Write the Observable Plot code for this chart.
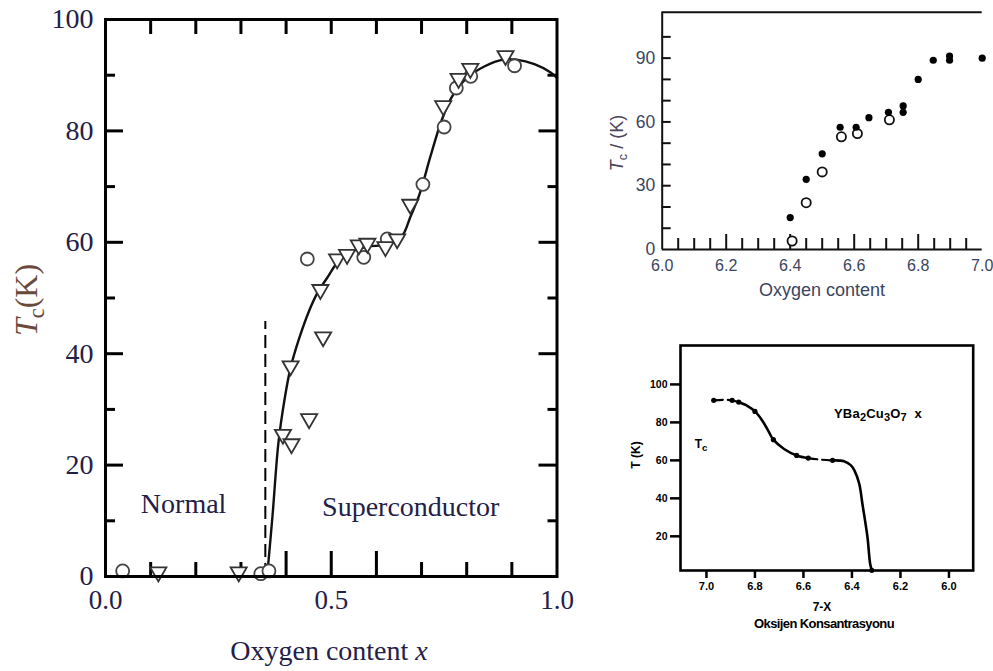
<!DOCTYPE html>
<html>
<head>
<meta charset="utf-8">
<script src="https://cdn.jsdelivr.net/npm/d3@7"></script>
<script src="https://cdn.jsdelivr.net/npm/@observablehq/plot@0.6"></script>
<style>
  html, body { margin: 0; padding: 0; background: #fff; }
  #page { position: relative; width: 993px; height: 671px; overflow: hidden; background: #fff; }
  .panel { position: absolute; }
  .lbl { position: absolute; white-space: nowrap; line-height: 1; transform: translate(-50%, -50%); }
  .rot { transform: translate(-50%, -50%) rotate(-90deg); }
  sub { font-size: 0.7em; vertical-align: -0.3em; line-height: 0; }
  .serif { font-family: "Liberation Serif", "DejaVu Serif", serif; }
  .sans { font-family: "Liberation Sans", Arial, sans-serif; }
</style>
</head>
<body>
<div id="page">
  <div class="panel" id="p1" style="left:0;top:0"></div>
  <div class="panel" id="p2" style="left:590px;top:0"></div>
  <div class="panel" id="p3" style="left:620px;top:330px"></div>

  <div class="lbl serif" style="left:329px;top:651px;font-size:28px;color:#232048">Oxygen content <i>x</i></div>
  <div class="lbl rot serif" style="left:26px;top:300px;font-size:32px;color:#6a4a3a"><i>T</i><sub>c</sub>(K)</div>

  <div class="lbl sans" style="left:822px;top:290px;font-size:18px;color:#3a4560">Oxygen content</div>
  <div class="lbl rot sans" style="left:617px;top:143px;font-size:18px;color:#4a4458"><i>T</i><sub>c</sub> / (K)</div>

  <div class="lbl rot sans" style="left:636px;top:455px;font-size:12px;font-weight:bold;color:#000">T (K)</div>
  <div class="lbl sans" style="left:822px;top:607px;font-size:12px;font-weight:bold;color:#000">7-X</div>
  <div class="lbl sans" style="left:824px;top:623px;font-size:13px;font-weight:bold;letter-spacing:-0.6px;color:#000">Oksijen Konsantrasyonu</div>
  <div class="lbl sans" style="left:701px;top:444px;font-size:12px;font-weight:bold;color:#000">T<sub style="font-size:0.8em">c</sub></div>
  <div class="lbl sans" style="left:878px;top:413px;font-size:13px;font-weight:bold;color:#000;letter-spacing:0.2px">YBa<sub style="font-size:0.85em">2</sub>Cu<sub style="font-size:0.85em">3</sub>O<sub style="font-size:0.85em">7</sub>&nbsp;&nbsp;x</div>
</div>
<script>
// ---------- Panel 1 data (left: Tc vs oxygen content x) ----------
const circles1 = [
  {x: 0.038, y: 1.0}, {x: 0.344, y: 0.5}, {x: 0.362, y: 1.0}, {x: 0.447, y: 57.0},
  {x: 0.572, y: 57.3}, {x: 0.624, y: 60.6}, {x: 0.703, y: 70.4}, {x: 0.750, y: 80.7},
  {x: 0.777, y: 87.7}, {x: 0.809, y: 89.8}, {x: 0.906, y: 91.7}
];
const triangles1 = [
  {x: 0.117, y: 0.8}, {x: 0.295, y: 0.8}, {x: 0.393, y: 25.5}, {x: 0.412, y: 23.8},
  {x: 0.410, y: 37.8}, {x: 0.451, y: 28.3}, {x: 0.482, y: 43.0}, {x: 0.476, y: 51.5},
  {x: 0.513, y: 57.0}, {x: 0.535, y: 57.8}, {x: 0.561, y: 59.5}, {x: 0.580, y: 59.8},
  {x: 0.620, y: 59.2}, {x: 0.646, y: 60.6}, {x: 0.675, y: 66.8}, {x: 0.748, y: 84.5},
  {x: 0.782, y: 89.4}, {x: 0.808, y: 91.2}, {x: 0.886, y: 93.5}
];
const curve1 = [
  {x: 0.358, y: 0}, {x: 0.370, y: 11}, {x: 0.383, y: 24}, {x: 0.397, y: 32}, {x: 0.410, y: 37.5},
  {x: 0.430, y: 43}, {x: 0.450, y: 47.5}, {x: 0.470, y: 51}, {x: 0.490, y: 53.5}, {x: 0.515, y: 56.5},
  {x: 0.545, y: 58.3}, {x: 0.580, y: 59.2}, {x: 0.615, y: 59.5}, {x: 0.645, y: 60.3}, {x: 0.660, y: 61.5},
  {x: 0.675, y: 64.5}, {x: 0.695, y: 68.5}, {x: 0.720, y: 75.5}, {x: 0.745, y: 82}, {x: 0.770, y: 86.5},
  {x: 0.800, y: 89.5}, {x: 0.840, y: 91.6}, {x: 0.880, y: 92.8}, {x: 0.910, y: 92.8}, {x: 0.950, y: 92},
  {x: 0.986, y: 90.5}, {x: 1.000, y: 89.5}
];
const boundary1 = [{x: 0.354, y1: 0, y2: 45.8}];
const regionLabels1 = [
  {x: 0.173, y: 13.0, text: "Normal"},
  {x: 0.676, y: 12.5, text: "Superconductor"}
];
const xDomain1 = [0, 1], yDomain1 = [0, 100];
const xTickLabels1 = [0, 0.5, 1.0];
const yTickLabels1 = [0, 20, 40, 60, 80, 100];
const xTicksShort1 = [0.1, 0.2, 0.3, 0.7, 0.8, 0.9];
const xTicksLong1 = [0.4, 0.5, 0.6];
const xTicksTop1 = [0.1, 0.2, 0.3, 0.4, 0.5, 0.6, 0.7, 0.8, 0.9];
const yTicksMajor1 = [20, 40, 60, 80];
const yTicksMinor1 = [10, 30, 50, 70, 90];

// ---------- Panel 2 data (top right) ----------
const filled2 = [
  {x: 6.40, y: 15}, {x: 6.45, y: 33}, {x: 6.50, y: 45}, {x: 6.556, y: 57.5}, {x: 6.606, y: 57.5},
  {x: 6.646, y: 62}, {x: 6.707, y: 64.5}, {x: 6.753, y: 67.5}, {x: 6.753, y: 64.5}, {x: 6.80, y: 80},
  {x: 6.847, y: 89}, {x: 6.898, y: 91}, {x: 6.898, y: 89}, {x: 7.00, y: 90}
];
const open2 = [
  {x: 6.406, y: 4}, {x: 6.45, y: 22}, {x: 6.50, y: 36.5}, {x: 6.56, y: 53},
  {x: 6.61, y: 54.5}, {x: 6.71, y: 61}
];
const xDomain2 = [6.0, 7.0], yDomain2 = [0, 111.6];
const xTickLabels2 = [6.0, 6.2, 6.4, 6.6, 6.8, 7.0];
const yTickLabels2 = [0, 30, 60, 90];
const xTicksMinor2 = [6.05, 6.1, 6.15, 6.25, 6.3, 6.35, 6.45, 6.5, 6.55, 6.65, 6.7, 6.75, 6.85, 6.9, 6.95];
const xTicksMajor2 = [6.2, 6.4, 6.6, 6.8];
const yTicks2 = [10, 20, 30, 40, 50, 60, 70, 80, 90, 100];

// ---------- Panel 3 data (bottom right, reversed x) ----------
const dots3 = [
  {x: 6.97, y: 91.6}, {x: 6.894, y: 91.6}, {x: 6.867, y: 90.7}, {x: 6.80, y: 85.8},
  {x: 6.724, y: 70.9}, {x: 6.628, y: 62.6}, {x: 6.58, y: 61.2}, {x: 6.48, y: 60.0},
  {x: 6.318, y: 2.1}
];
const curve3 = [
  {seg: 0, style: "dash", x: 6.97, y: 91.6}, {seg: 0, style: "dash", x: 6.93, y: 91.9},
  {seg: 0, style: "dash", x: 6.894, y: 91.6}, {seg: 0, style: "dash", x: 6.867, y: 90.7},
  {seg: 1, style: "solid", x: 6.867, y: 90.7}, {seg: 1, style: "solid", x: 6.83, y: 88.6},
  {seg: 1, style: "solid", x: 6.80, y: 85.8}, {seg: 1, style: "solid", x: 6.77, y: 81},
  {seg: 1, style: "solid", x: 6.745, y: 75.5}, {seg: 1, style: "solid", x: 6.724, y: 70.9},
  {seg: 1, style: "solid", x: 6.68, y: 66}, {seg: 1, style: "solid", x: 6.628, y: 62.6},
  {seg: 1, style: "solid", x: 6.58, y: 61.2},
  {seg: 2, style: "dash", x: 6.58, y: 61.2}, {seg: 2, style: "dash", x: 6.53, y: 60.4},
  {seg: 2, style: "dash", x: 6.48, y: 60.0},
  {seg: 3, style: "solid", x: 6.48, y: 60.0}, {seg: 3, style: "solid", x: 6.433, y: 59.6},
  {seg: 3, style: "solid", x: 6.405, y: 57.5}, {seg: 3, style: "solid", x: 6.39, y: 54.7},
  {seg: 3, style: "solid", x: 6.37, y: 47.7}, {seg: 3, style: "solid", x: 6.357, y: 37.2},
  {seg: 3, style: "solid", x: 6.336, y: 19.6}, {seg: 3, style: "solid", x: 6.325, y: 5.6},
  {seg: 3, style: "solid", x: 6.318, y: 2.1}
];
const xDomain3 = [7.107, 5.9], yDomain3 = [2, 120.5];
const xTickLabels3 = [7.0, 6.8, 6.6, 6.4, 6.2, 6.0];
const yTickLabels3 = [20, 40, 60, 80, 100];

// ================= Panel 1 =================
{
  const W = 580, H = 671, mL = 105, mR = 23.5, mT = 19, mB = 95;
  const iw = W - mL - mR, ih = H - mT - mB;
  const ink = "#232048";
  const p = Plot.plot({
    width: W, height: H, marginLeft: mL, marginRight: mR, marginTop: mT, marginBottom: mB,
    x: {domain: xDomain1, label: null},
    y: {domain: yDomain1, label: null},
    style: {fontFamily: "'Liberation Serif', 'DejaVu Serif', serif", fontSize: "28px", color: ink, background: "transparent", overflow: "visible"},
    marks: [
      Plot.axisX({ticks: xTickLabels1, tickSize: 0, tickPadding: 13, tickFormat: d3.format(".1f"), fontSize: 27, label: null}),
      Plot.axisY({ticks: yTickLabels1, tickSize: 0, tickPadding: 12, fontSize: 28, label: null}),
      Plot.tickX(xTicksShort1, {x: d => d, insetTop: ih - 14, stroke: "#000", strokeWidth: 3}),
      Plot.tickX(xTicksLong1, {x: d => d, insetTop: ih - 25, stroke: "#000", strokeWidth: 3}),
      Plot.tickX(xTicksTop1, {x: d => d, insetBottom: ih - 15, stroke: "#000", strokeWidth: 3}),
      Plot.tickY(yTicksMajor1, {y: d => d, insetRight: iw - 18, stroke: "#000", strokeWidth: 3}),
      Plot.tickY(yTicksMinor1, {y: d => d, insetRight: iw - 10, stroke: "#000", strokeWidth: 3}),
      Plot.tickY(yTicksMajor1, {y: d => d, insetLeft: iw - 18, stroke: "#000", strokeWidth: 3}),
      Plot.tickY(yTicksMinor1, {y: d => d, insetLeft: iw - 9, stroke: "#000", strokeWidth: 3}),
      Plot.ruleX(boundary1, {x: "x", y1: "y1", y2: "y2", stroke: "#000", strokeWidth: 2, strokeDasharray: "13,6"}),
      Plot.line(curve1, {x: "x", y: "y", curve: "catmull-rom", stroke: "#111", strokeWidth: 2.4}),
      Plot.dot(circles1, {x: "x", y: "y", r: 6.5, stroke: "#444", strokeWidth: 1.8, fill: "white"}),
      Plot.dot(triangles1, {x: "x", y: "y", symbol: "triangle", rotate: 180, r: 6, stroke: "#333", strokeWidth: 1.8, fill: "white"}),
      Plot.text(regionLabels1, {x: "x", y: "y", text: "text", fontSize: 28, fill: ink}),
      Plot.frame({stroke: "#000", strokeWidth: 3})
    ]
  });
  document.getElementById("p1").appendChild(p);
}

// ================= Panel 2 =================
{
  const W = 403, H = 320, mL = 71.7, mR = 11.3, mT = 11.7, mB = 71;
  const iw = W - mL - mR, ih = H - mT - mB;
  const ink = "#3a4560";
  const p = Plot.plot({
    width: W, height: H, marginLeft: mL, marginRight: mR, marginTop: mT, marginBottom: mB,
    x: {domain: xDomain2, label: null},
    y: {domain: yDomain2, label: null},
    style: {fontFamily: "'Liberation Sans', Arial, sans-serif", fontSize: "18px", color: ink, background: "transparent", overflow: "visible"},
    marks: [
      Plot.axisX({ticks: xTickLabels2, tickSize: 0, tickPadding: 10, tickFormat: d3.format(".1f"), fontSize: 16, label: null}),
      Plot.axisY({ticks: yTickLabels2, tickSize: 0, tickPadding: 7, fontSize: 17.5, label: null}),
      Plot.tickX(xTicksMinor2, {x: d => d, insetTop: ih - 11, stroke: "#111", strokeWidth: 2}),
      Plot.tickX(xTicksMajor2, {x: d => d, insetTop: ih - 15, stroke: "#111", strokeWidth: 2}),
      Plot.tickY(yTicks2, {y: d => d, insetRight: iw - 9, stroke: "#111", strokeWidth: 2}),
      Plot.ruleX([xDomain2[0]], {stroke: "#111", strokeWidth: 2}),
      Plot.ruleY([yDomain2[0], yDomain2[1]], {stroke: "#111", strokeWidth: 2}),
      Plot.dot(open2, {x: "x", y: "y", r: 4.6, stroke: "#111", strokeWidth: 1.8, fill: "white"}),
      Plot.dot(filled2, {x: "x", y: "y", r: 3.6, fill: "#000"})
    ]
  });
  document.getElementById("p2").appendChild(p);
}

// ================= Panel 3 =================
{
  const W = 373, H = 341, mL = 60, mR = 20.3, mT = 15, mB = 101;
  const p = Plot.plot({
    width: W, height: H, marginLeft: mL, marginRight: mR, marginTop: mT, marginBottom: mB,
    x: {domain: xDomain3, label: null},
    y: {domain: yDomain3, label: null},
    style: {fontFamily: "'Liberation Sans', Arial, sans-serif", fontSize: "11px", fontWeight: "bold", color: "#000", background: "transparent", overflow: "visible"},
    marks: [
      Plot.axisX({ticks: xTickLabels3, tickSize: 8, tickPadding: 4, strokeWidth: 2.5, tickFormat: d3.format(".1f"), fontSize: 11, fontWeight: "bold", label: null}),
      Plot.axisY({ticks: yTickLabels3, tickSize: 10, tickPadding: 3, strokeWidth: 2.5, fontSize: 10.5, fontWeight: "bold", label: null}),
      Plot.line(curve3.filter(d => d.style === "solid"), {x: "x", y: "y", z: "seg", curve: "catmull-rom", stroke: "#000", strokeWidth: 2.6}),
      Plot.line(curve3.filter(d => d.style === "dash"), {x: "x", y: "y", z: "seg", curve: "catmull-rom", stroke: "#000", strokeWidth: 2.2, strokeDasharray: "9,5"}),
      Plot.dot(dots3, {x: "x", y: "y", r: 2.6, fill: "#000"}),
      Plot.frame({stroke: "#000", strokeWidth: 2.6})
    ]
  });
  document.getElementById("p3").appendChild(p);
}
</script>
</body>
</html>
